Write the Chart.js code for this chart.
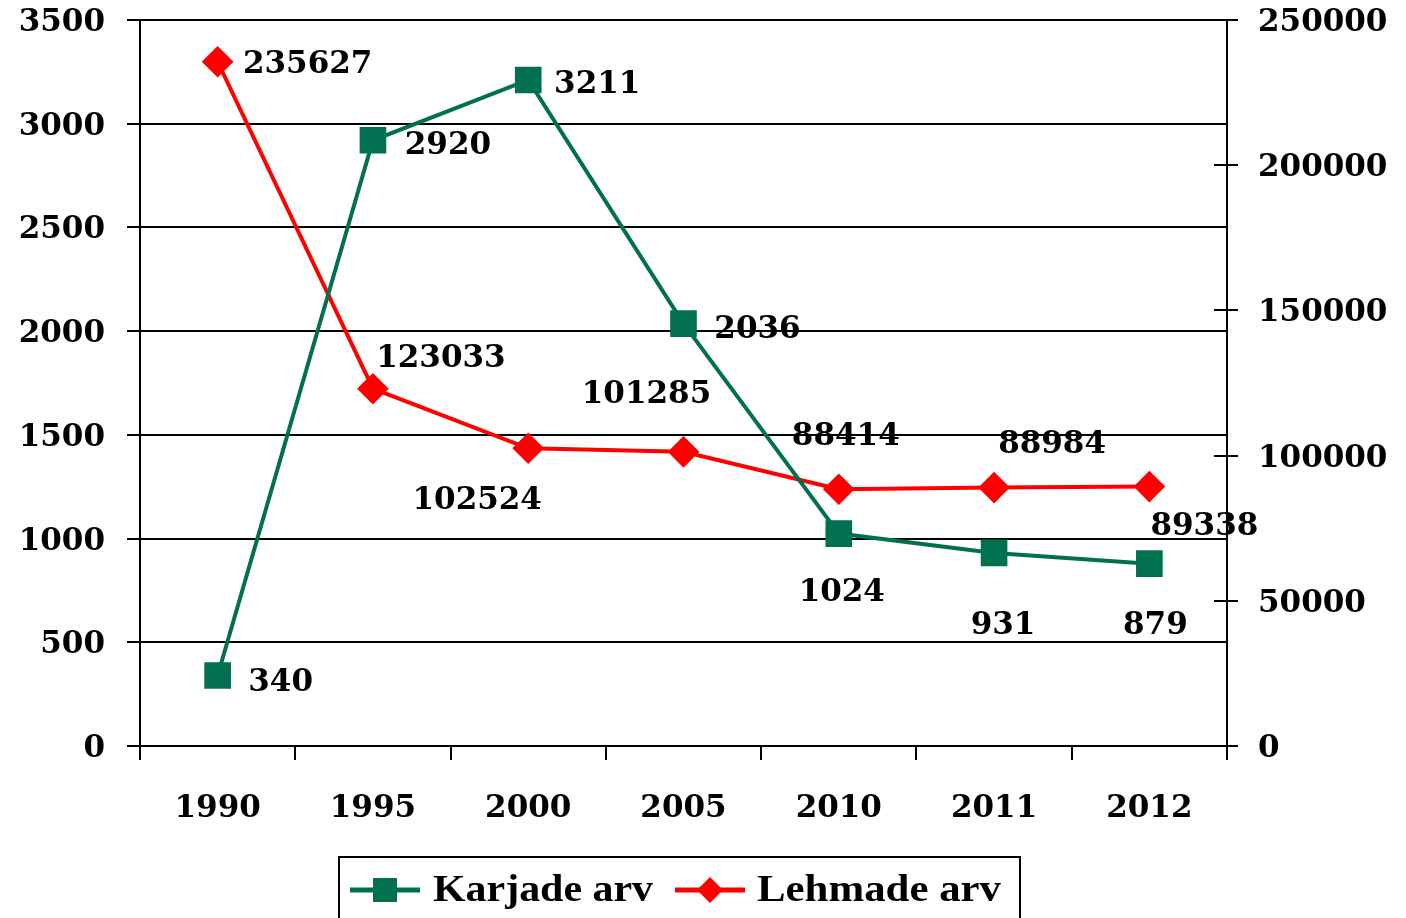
<!DOCTYPE html>
<html>
<head>
<meta charset="utf-8">
<script src="https://cdn.jsdelivr.net/npm/chart.js@4"></script>
<style>
html,body{margin:0;padding:0;background:#fff;}
#wrap{position:relative;width:1406px;height:918px;}
</style>
</head>
<body>
<div id="wrap"><canvas id="c" width="1406" height="918"></canvas></div>
<script>
const years = ['1990','1995','2000','2005','2010','2011','2012'];
const karjadeArv = [340, 2920, 3211, 2036, 1024, 931, 879];
const lehmadeArv = [235627, 123033, 102524, 101285, 88414, 88984, 89338];
const leftTicks = [0, 500, 1000, 1500, 2000, 2500, 3000, 3500];
const rightTicks = [0, 50000, 100000, 150000, 200000, 250000];
const seriesNames = ['Karjade arv', 'Lehmade arv'];

const FONT = 'DejaVu Serif';
const GREEN = '#007050';
const RED = '#ff0000';

// label offsets (pixels, relative to each point)
const labelOffsets = [
  [[63,7],[75,6],[69,5],[74,6],[3,59],[9,73],[6,62]],
  [[90,3],[68,-30],[-51,53],[-37,-57],[7,-52],[58,-43],[55,40]]
];

const dataLabels = {
  id: 'dataLabels',
  afterDatasetsDraw(chart) {
    const ctx = chart.ctx;
    ctx.save();
    ctx.font = 'bold 31px "' + FONT + '"';
    ctx.fillStyle = '#000';
    ctx.textAlign = 'center';
    ctx.textBaseline = 'middle';
    chart.data.datasets.forEach((ds, i) => {
      const meta = chart.getDatasetMeta(i);
      meta.data.forEach((pt, j) => {
        const o = labelOffsets[i][j];
        ctx.fillText(String(ds.data[j]), pt.x + o[0], pt.y + o[1]);
      });
    });
    ctx.restore();
  }
};

const extras = {
  id: 'extras',
  afterDraw(chart) {
    const ctx = chart.ctx;
    const y1 = chart.scales.y1;
    const area = chart.chartArea;
    ctx.save();
    ctx.strokeStyle = '#000';
    ctx.lineWidth = 2;
    y1.ticks.forEach(t => {
      const y = Math.round(y1.getPixelForValue(t.value));
      ctx.beginPath();
      ctx.moveTo(area.right - 13, y);
      ctx.lineTo(area.right + 11, y);
      ctx.stroke();
    });
    // legend
    const lx = 339, ly = 857, lw = 681, lh = 80;
    ctx.lineWidth = 2;
    ctx.strokeRect(lx, ly, lw, lh);
    const items = [
      {x: 350, tx: 433, tw: 220, color: GREEN, style: 'rect'},
      {x: 675, tx: 757, tw: 244, color: RED, style: 'diamond'}
    ];
    const cy = 890;
    ctx.font = 'bold 38px "Liberation Serif"';
    ctx.textBaseline = 'middle';
    ctx.textAlign = 'left';
    items.forEach((it, i) => {
      ctx.strokeStyle = it.color;
      ctx.fillStyle = it.color;
      ctx.lineWidth = 5;
      ctx.beginPath();
      ctx.moveTo(it.x, cy);
      ctx.lineTo(it.x + 70, cy);
      ctx.stroke();
      const mx = it.x + 35;
      if (it.style === 'rect') {
        ctx.fillRect(mx - 12, cy - 12, 24, 24);
      } else {
        ctx.beginPath();
        ctx.moveTo(mx, cy - 13);
        ctx.lineTo(mx + 13, cy);
        ctx.lineTo(mx, cy + 13);
        ctx.lineTo(mx - 13, cy);
        ctx.closePath();
        ctx.fill();
      }
      ctx.fillStyle = '#000';
      const w = ctx.measureText(seriesNames[i]).width;
      ctx.save();
      ctx.translate(it.tx, cy + 1);
      ctx.scale(it.tw / w, 1);
      ctx.fillText(seriesNames[i], 0, 0);
      ctx.restore();
    });
    ctx.restore();
  }
};

const plain = v => String(v);
const noPad = s => { s.paddingTop = 0; s.paddingBottom = 0; s.paddingLeft = 0; s.paddingRight = 0; };

new Chart(document.getElementById('c'), {
  type: 'line',
  data: {
    labels: years,
    datasets: [
      {
        label: seriesNames[0],
        data: karjadeArv,
        yAxisID: 'y',
        borderColor: GREEN,
        backgroundColor: GREEN,
        borderWidth: 4,
        pointStyle: 'rect',
        pointRadius: 16,
        pointHoverRadius: 16,
        tension: 0
      },
      {
        label: seriesNames[1],
        data: lehmadeArv,
        yAxisID: 'y1',
        borderColor: RED,
        backgroundColor: RED,
        borderWidth: 4,
        pointStyle: 'rectRot',
        pointRadius: 13,
        pointHoverRadius: 13,
        tension: 0
      }
    ]
  },
  options: {
    responsive: false,
    animation: false,
    events: [],
    layout: { padding: { top: 18, left: 0, right: 0, bottom: 0 } },
    plugins: { legend: { display: false }, tooltip: { enabled: false } },
    scales: {
      x: {
        offset: true,
        grid: { offset: true, drawOnChartArea: false, drawTicks: true, tickLength: 14, color: '#000', lineWidth: 2 },
        border: { color: '#000', width: 2 },
        ticks: { color: '#000', font: { family: FONT, weight: 'bold', size: 31 }, padding: 30, maxRotation: 0 },
        afterFit(s) { s.height = 172; noPad(s); }
      },
      y: {
        position: 'left',
        min: 0, max: 3500,
        afterBuildTicks(s) { s.ticks = leftTicks.map(v => ({ value: v })); },
        grid: { color: '#000', lineWidth: 2, tickLength: 13 },
        border: { color: '#000', width: 2 },
        ticks: { color: '#000', font: { family: FONT, weight: 'bold', size: 31 }, padding: 22, labelOffset: 3, callback: plain },
        afterFit(s) { s.width = 140; noPad(s); }
      },
      y1: {
        position: 'right',
        min: 0, max: 250000,
        afterBuildTicks(s) { s.ticks = rightTicks.map(v => ({ value: v })); },
        grid: { drawOnChartArea: false, drawTicks: false },
        border: { color: '#000', width: 2 },
        ticks: { color: '#000', font: { family: FONT, weight: 'bold', size: 31 }, padding: 31, labelOffset: 3, callback: plain },
        afterFit(s) { s.width = 179; noPad(s); }
      }
    }
  },
  plugins: [dataLabels, extras]
});
</script>
</body>
</html>
